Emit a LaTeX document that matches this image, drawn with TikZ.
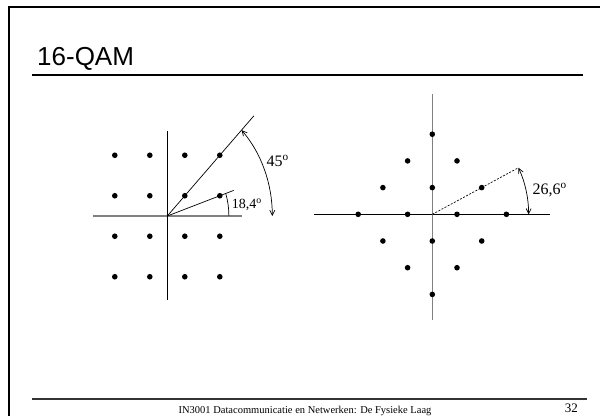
\documentclass[tikz,border=0pt]{standalone}
\usepackage{fontspec}
\setmainfont{Liberation Serif}
\newfontfamily\titlefont{Liberation Sans}
\usetikzlibrary{arrows.meta}
\begin{document}
\begin{tikzpicture}[x=1pt,y=-1pt,
  dot/.style={circle,fill=black,inner sep=0pt,minimum size=5.6pt},
  axisblack/.style={black,line width=0.9pt},
  axisgray/.style={gray,line width=1.3pt},
  thinline/.style={black,line width=0.7pt},
  dblarrow/.style={black,line width=0.7pt,{Straight Barb[length=5pt,width=5pt]}-{Straight Barb[length=5pt,width=5pt]}},
  lbl/.style={inner sep=0pt,anchor=west}]
\useasboundingbox (0,0) rectangle (600,416);
\fill[white] (0,0) rectangle (600,416);
% frame
\draw[line width=2pt] (9,416) -- (9,7) -- (600,7);
% title
\node[anchor=base west,inner sep=0pt,font=\titlefont\fontsize{26}{30}\selectfont] (title) at (37,65) {16-QAM};
\coordinate (tl) at (32,75);
\coordinate (tr) at (583,75);
\draw[line width=1.3pt] (tl) -- (tr);
% footer
\coordinate (fl) at (32,399);
\coordinate (fr) at (587,399);
\draw[line width=2pt,black!80] (fl) -- (fr);
\node[anchor=base,inner sep=0pt,font=\fontsize{10.5}{12}\selectfont] (foot) at (305,413) {IN3001 Datacommunicatie en Netwerken: De Fysieke Laag};
\node[anchor=base east,inner sep=0pt,font=\fontsize{13}{15}\selectfont] (page) at (578,412) {32};

% left diagram
\begin{scope}[shift={(167.3,216)},x=35pt,y=40.5pt]
  \coordinate (O) at (0,0);
  \coordinate (hl) at (-2.13,0); \coordinate (hr) at (2.14,0);
  \coordinate (vt) at (0,2.1); \coordinate (vb) at (0,-2.07);
  \draw[axisgray] (hl) -- (hr);
  \draw[axisblack] (vt) -- (vb);
  \foreach \i/\x in {1/-1.5,2/-0.5,3/0.5,4/1.5}
    \foreach \j/\y in {1/-1.5,2/-0.5,3/0.5,4/1.5}
      \node[dot] (L\i\j) at (\x,\y) {};
  \coordinate (e45) at (45:3.5);
  \coordinate (e18) at (18.43:2.0);
  \draw[thinline] (O) -- (e45);
  \draw[thinline] (O) -- (e18);
  \draw[dblarrow] (45:3) arc[start angle=45,end angle=0,radius=3];
  \draw[thinline] (18.43:1.76) arc[start angle=18.43,end angle=0,radius=1.76];
  \node[lbl,font=\fontsize{16}{18}\selectfont] (a45) at (2.83,1.36) {45\textsuperscript{o}};
  \node[lbl,font=\fontsize{14}{16}\selectfont] (a18) at (1.84,0.27) {18,4\textsuperscript{o}};
\end{scope}

% right diagram
\begin{scope}[shift={(432.3,214.3)},x=24.7pt,y=26.7pt]
  \coordinate (P) at (0,0);
  \coordinate (rhl) at (-4.77,0); \coordinate (rhr) at (4.77,0);
  \coordinate (rvt) at (0,4.5); \coordinate (rvb) at (0,-3.96);
  \draw[thinline] (rhl) -- (rhr);
  \draw[axisgray] (rvt) -- (rvb);
  \foreach \n/\x/\y in {a/0/3,b/-1/2,c/1/2,d/-2/1,e/0/1,f/2/1,g/-3/0,h/-1/0,i/1/0,j/3/0,k/-2/-1,l/0/-1,m/2/-1,n/-1/-2,o/1/-2,p/0/-3}
    \node[dot] (R\n) at (\x,\y) {};
  \coordinate (e26) at (26.57:3.9);
  \draw[thinline,dashed,dash pattern=on 2pt off 1.5pt] (P) -- (e26);
  \draw[dblarrow] (26.57:3.9) arc[start angle=26.57,end angle=0,radius=3.9];
  \node[lbl,font=\fontsize{16}{18}\selectfont] (a26) at (4.05,0.9) {26,6\textsuperscript{o}};
\end{scope}
\end{tikzpicture}
\end{document}
